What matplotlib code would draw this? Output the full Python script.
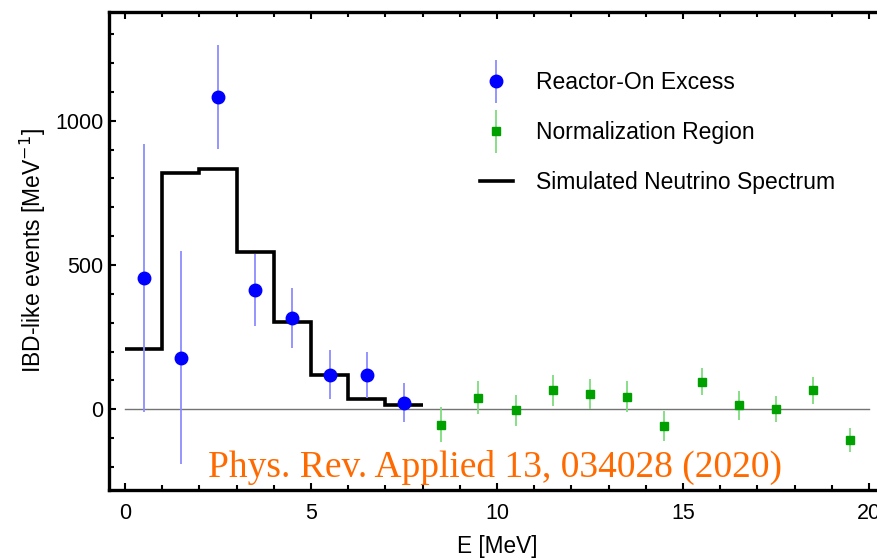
import matplotlib
matplotlib.use("Agg")
import matplotlib.pyplot as plt
import numpy as np
from matplotlib.ticker import MultipleLocator
from matplotlib.legend_handler import HandlerErrorbar

plt.rcParams["font.family"] = ["Liberation Sans", "DejaVu Sans"]

# reactor-on excess (blue)
on_e = [0.5, 1.5, 2.5, 3.5, 4.5, 5.5, 6.5, 7.5]
on_y = [454, 179, 1083, 413, 317, 119, 120, 23]
on_err = [465, 370, 180, 125, 103, 85, 80, 68]

# normalization region (green)
norm_e = [8.5, 9.5, 10.5, 11.5, 12.5, 13.5, 14.5, 15.5, 16.5, 17.5, 18.5, 19.5]
norm_y = [-54, 40, -4, 66, 52, 44, -58, 96, 13, 1, 66, -106]
norm_err = [61, 57, 55, 54, 52, 53, 52, 48, 50, 46, 47, 42]

# simulated spectrum, 1 MeV bins
sim_edges = [0, 1, 2, 3, 4, 5, 6, 7, 8]
sim_vals = [209, 820, 833, 544, 304, 119, 35, 14]

fig = plt.figure(figsize=(8.78, 5.59), dpi=100)
ax = fig.add_axes([0.1241, 0.1234, 0.8846, 0.8551])

ax.plot([0, 20], [0, 0], color="0.45", lw=1.0, zorder=1)

ax.stairs(sim_vals, sim_edges, baseline=None, color="black", lw=2.6,
          zorder=3, label="Simulated Neutrino Spectrum")

eb_on = ax.errorbar(on_e, on_y, yerr=on_err, fmt="o", color="#0000ff", ms=9,
                    ecolor="#8c8cff", elinewidth=1.3, capsize=0, zorder=4,
                    label="Reactor-On Excess")
eb_norm = ax.errorbar(norm_e, norm_y, yerr=norm_err, fmt="s", color="#00a000",
                      ms=5.8, ecolor="#7fdc7f", elinewidth=1.3, capsize=0,
                      zorder=4, label="Normalization Region")

ax.set_xlim(-0.43, 20.45)
ax.set_ylim(-280, 1377)

ax.xaxis.set_major_locator(MultipleLocator(5))
ax.xaxis.set_minor_locator(MultipleLocator(1))
ax.yaxis.set_major_locator(MultipleLocator(500))
ax.yaxis.set_minor_locator(MultipleLocator(100))
ax.tick_params(which="both", direction="in", top=True, right=True,
               width=1.5, labelsize=15.5, colors="black")
ax.tick_params(axis="x", which="major", length=5, pad=9)
ax.tick_params(axis="y", which="major", length=5, pad=4)
ax.tick_params(which="minor", length=3.5)
for s in ax.spines.values():
    s.set_linewidth(2.4)

ax.set_xlabel("E [MeV]", fontsize=16.3, labelpad=8)
ax.set_ylabel("IBD-like events [MeV$^{-1}$]", fontsize=16.5, labelpad=5)

h, l = ax.get_legend_handles_labels()
order = [1, 2, 0]
ax.legend([h[i] for i in order], [l[i] for i in order], frameon=False,
          fontsize=16.5, loc="upper left", bbox_to_anchor=(0.451, 0.919),
          handlelength=1.43, handletextpad=1.04, labelspacing=1.18,
          handler_map={eb_on: HandlerErrorbar(yerr_size=0.95),
                       eb_norm: HandlerErrorbar(yerr_size=0.95)})

ax.text(0.4976, 0.027, "Phys. Rev. Applied 13, 034028 (2020)",
        transform=ax.transAxes, fontsize=27, color="#ff6a00",
        family="Liberation Serif", ha="center", va="baseline")

fig.savefig("out.png", dpi=100)
